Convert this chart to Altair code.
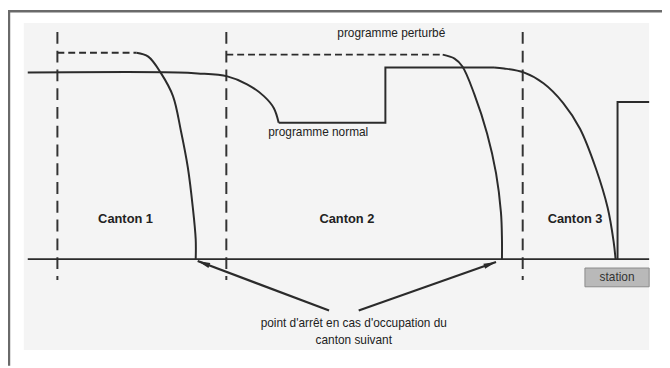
import math
import altair as alt
import pandas as pd

# Coordinates: d = distance along the track, v = speed (0 = track level)

# ---- scanned panel & frame ----
panel_d = [-4, 629]
panel_v = [239, -92]

# ---- track / station ----
ground_d = [0, 629]
ground_v = [0, 0]
station_box_d = [564, 629]
station_box_v = [-9, -28]

# ---- block (canton) boundaries ----
canton_bounds = [30, 201, 501]
bound_v = [230, -21]

# ---- perturbed programme (dashed) ----
pert_seg = ["a", "a", "b", "b"]
pert_d = [30, 110, 201, 420]
pert_v = [209, 209, 207, 207]

# ---- braking curves ----
brake1_d = [110, 122, 135, 147, 155, 162, 167, 170, 170]
brake1_v = [209, 205, 188, 165, 130, 93, 53, 20, 0]
brake2_d = [420, 432, 440, 452, 465, 474, 479, 480, 480]
brake2_v = [207, 203, 195, 167, 127, 87, 47, 20, 0]

# ---- normal programme ----
normA_d = [0, 152, 172, 202, 222, 239, 249, 254]
normA_v = [189, 189, 188, 185, 177, 165, 153, 138]
normStep_d = [254, 362, 362, 472]
normStep_v = [138, 138, 194, 194]
normB_d = [472, 482, 502, 522, 542, 559, 575, 587, 593, 595]
normB_v = [194, 193, 189, 178, 158, 132, 92, 52, 18, 0]

# ---- station speed step ----
stat_d = [597, 597, 629]
stat_v = [0, 159, 159]

# ---- arrows ----
arrow_tail_d = [305, 335]
arrow_tail_v = [-52, -52]
arrow_head_d = [172, 474]
arrow_head_v = [-2, -3]

# ---- labels ----
labels = ["programme perturbé", "programme normal",
          "point d'arrêt en cas d'occupation du", "canton suivant"]
label_d = [368, 294, 330, 330]
label_v = [229, 129, -65, -82]
canton_labels = ["Canton 1", "Canton 2", "Canton 3"]
canton_d = [99, 323, 554]
canton_v = [41, 41, 41]

FONT = "Liberation Sans"
INK = "#2b2b2b"

xs = alt.Scale(domain=[-20, 642], nice=False, zero=False)
ys = alt.Scale(domain=[-108, 252], nice=False, zero=False)


def X(f="d"):
    return alt.X(f"{f}:Q", scale=xs, axis=None)


def Y(f="v"):
    return alt.Y(f"{f}:Q", scale=ys, axis=None)


# panel background
panel_df = pd.DataFrame({"d": [panel_d[0]], "d2": [panel_d[1]],
                         "v": [panel_v[0]], "v2": [panel_v[1]]})
panel = alt.Chart(panel_df).mark_rect(fill="#f4f4f4").encode(
    x=X(), x2="d2:Q", y=Y(), y2="v2:Q")

# frame (left and top border)
frame_df = pd.DataFrame({"d": [-19, -20], "d2": [-19, 642],
                         "v": [252, 251], "v2": [-108, 251]})
frame = alt.Chart(frame_df).mark_rule(color="#6a6a6a", strokeWidth=2.5).encode(
    x=X(), x2="d2:Q", y=Y(), y2="v2:Q")

# canton boundaries
bounds_df = pd.DataFrame({"d": canton_bounds,
                          "v": [bound_v[0]] * 3, "v2": [bound_v[1]] * 3})
bounds = alt.Chart(bounds_df).mark_rule(
    color="#333", strokeWidth=2, strokeDash=[12, 7]).encode(
    x=X(), y=Y(), y2="v2:Q")

# perturbed dashed
pert_df = pd.DataFrame({"seg": pert_seg, "d": pert_d, "v": pert_v})
pert = alt.Chart(pert_df).mark_line(
    color=INK, strokeWidth=2, strokeDash=[7, 4]).encode(
    x=X(), y=Y(), detail="seg:N")


def series(name, d, v):
    return pd.DataFrame({"seg": [name] * len(d), "i": list(range(len(d))),
                         "d": d, "v": v})


curves_df = pd.concat([series("b1", brake1_d, brake1_v),
                       series("b2", brake2_d, brake2_v),
                       series("nA", normA_d, normA_v),
                       series("nB", normB_d, normB_v)])
curves = alt.Chart(curves_df).mark_line(
    color=INK, strokeWidth=2, interpolate="catmull-rom").encode(
    x=X(), y=Y(), detail="seg:N", order="i:Q")

straight_df = pd.concat([series("step", normStep_d, normStep_v),
                         series("stat", stat_d, stat_v),
                         series("ground", ground_d, ground_v)])
straight = alt.Chart(straight_df).mark_line(
    color=INK, strokeWidth=2, strokeJoin="miter").encode(
    x=X(), y=Y(), detail="seg:N", order="i:Q")

# station box
sbox_df = pd.DataFrame({"d": [station_box_d[0]], "d2": [station_box_d[1]],
                        "v": [station_box_v[0]], "v2": [station_box_v[1]],
                        "t": ["station"],
                        "cd": [(station_box_d[0] + station_box_d[1]) / 2],
                        "cv": [(station_box_v[0] + station_box_v[1]) / 2]})
sbox = alt.Chart(sbox_df).mark_rect(
    fill="#b9b9b9", stroke="#8a8a8a", strokeWidth=1).encode(
    x=X(), x2="d2:Q", y=Y(), y2="v2:Q")
stext = alt.Chart(sbox_df).mark_text(
    font=FONT, fontSize=12, color="#333", baseline="middle").encode(
    x=X("cd"), y=Y("cv"), text="t:N")

# labels
lab_df = pd.DataFrame({"t": labels, "d": label_d, "v": label_v})
lab = alt.Chart(lab_df).mark_text(
    font=FONT, fontSize=12, color="#222", baseline="middle").encode(
    x=X(), y=Y(), text="t:N")
can_df = pd.DataFrame({"t": canton_labels, "d": canton_d, "v": canton_v})
can = alt.Chart(can_df).mark_text(
    font=FONT, fontSize=13, fontWeight="bold", color="#222",
    baseline="middle").encode(x=X(), y=Y(), text="t:N")

# arrows
ang = [math.degrees(math.atan2(hd - td, hv - tv)) % 360
       for td, tv, hd, hv in zip(arrow_tail_d, arrow_tail_v,
                                 arrow_head_d, arrow_head_v)]
arr_df = pd.DataFrame({"d": arrow_tail_d, "v": arrow_tail_v,
                       "d2": arrow_head_d, "v2": arrow_head_v, "ang": ang})
arr_lines = alt.Chart(arr_df).mark_rule(color=INK, strokeWidth=2.2).encode(
    x=X(), y=Y(), x2="d2:Q", y2="v2:Q")
arr_heads = alt.Chart(arr_df).mark_point(
    shape="M0,0L0.42,2L-0.42,2Z", size=160, filled=True,
    color=INK, opacity=1).encode(
    x=X("d2"), y=Y("v2"),
    angle=alt.Angle("ang:Q", scale=None))

chart = alt.layer(panel, frame, bounds, pert, curves, straight, sbox, stext,
                  lab, can, arr_lines, arr_heads).properties(
    width=662, height=360,
    autosize=alt.AutoSizeParams(type="none"),
    padding=0,
).configure_view(stroke=None)

chart.save("out.html", embed_options={"renderer": "svg", "actions": False})
